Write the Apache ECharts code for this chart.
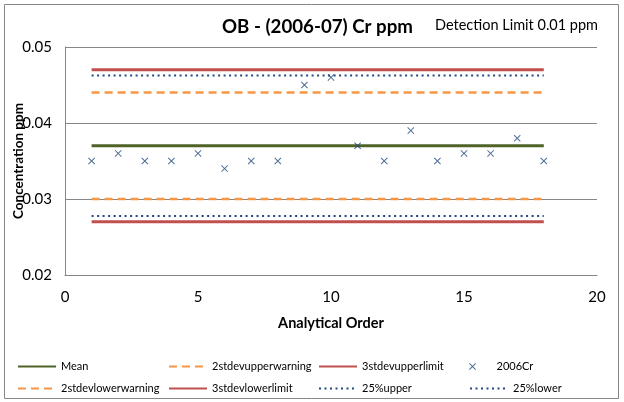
<!DOCTYPE html>
<html><head><meta charset="utf-8">
<script src="https://cdn.jsdelivr.net/npm/echarts@6/dist/echarts.min.js"></script>
<style>html,body{margin:0;padding:0;background:#fff}#c{width:624px;height:402px}</style>
</head><body><div id="c"></div>
<script>
const order = [1,2,3,4,5,6,7,8,9,10,11,12,13,14,15,16,17,18];
const cr2006 = [0.035,0.036,0.035,0.035,0.036,0.034,0.035,0.035,0.045,0.046,0.037,0.035,0.039,0.035,0.036,0.036,0.038,0.035];
const lineX = [1, 18];
const mean = [0.037, 0.037];
const upperWarn2 = [0.044, 0.044];
const lowerWarn2 = [0.030, 0.030];
const upperLimit3 = [0.047, 0.047];
const lowerLimit3 = [0.027, 0.027];
const upper25 = [0.04625, 0.04625];
const lower25 = [0.02775, 0.02775];
const yTicks = [0.02, 0.03, 0.04, 0.05];
const xTicks = [0, 5, 10, 15, 20];

const FONT = 'Lato, "Open Sans", sans-serif';
const pair = (xs, ys) => xs.map((x, i) => [x, ys[i]]);
const lineSeries = (name, ys, color, type, width, z) => ({
  name, type: 'line', data: pair(lineX, ys), symbol: 'none', showSymbol: false, z: z || 2,
  lineStyle: { color, type, width }, itemStyle: { color }
});
const xPath = 'path://M0,1 L1,0 L5,4 L9,0 L10,1 L6,5 L10,9 L9,10 L5,6 L1,10 L0,9 L4,5 Z';

const legendAt = (name, left, top, isLine) => ({
  orient: 'horizontal', left, top, padding: 0, itemWidth: 38, itemHeight: isLine ? 10 : 7, itemGap: 4,
  textStyle: { fontFamily: FONT, fontSize: 11, color: '#000' },
  data: [isLine ? { name, itemStyle: { opacity: 0 } } : name]
});

const chart = echarts.init(document.getElementById('c'), null, { renderer: 'canvas' });
chart.setOption({
  animation: false,
  backgroundColor: '#fff',
  graphic: [{ type: 'rect', shape: { x: 4.5, y: 4.5, width: 614, height: 394 }, style: { fill: 'none', stroke: '#868686', lineWidth: 1 } },
    { type: 'text', left: 435, top: 18, style: { text: 'Detection Limit 0.01 ppm', fontFamily: FONT, fontSize: 14.5, fill: '#000' } }],
  title: { text: 'OB - (2006-07) Cr ppm', left: 222, top: 17, padding: 0,
    textStyle: { fontFamily: FONT, fontSize: 18.7, fontWeight: 'bold', color: '#000' } },
  grid: { left: 65, right: 27, top: 47, bottom: 127, containLabel: false, outerBoundsMode: 'none' },
  xAxis: { type: 'value', min: xTicks[0], max: xTicks[xTicks.length - 1], interval: 5,
    name: 'Analytical Order', nameLocation: 'middle', nameGap: 41, nameMoveOverlap: false,
    nameTextStyle: { fontFamily: FONT, fontSize: 14.5, fontWeight: 'bold', color: '#000' },
    axisLine: { lineStyle: { color: '#868686' } }, axisTick: { show: false },
    axisLabel: { fontFamily: FONT, fontSize: 15, color: '#000', margin: 15 },
    splitLine: { show: false } },
  yAxis: { type: 'value', min: yTicks[0], max: yTicks[yTicks.length - 1], interval: 0.01,
    name: 'Concentration ppm', nameLocation: 'middle', nameGap: 39, nameMoveOverlap: false,
    nameTextStyle: { fontFamily: FONT, fontSize: 13.5, fontWeight: 'bold', color: '#000' },
    axisLine: { show: true, lineStyle: { color: '#868686' } }, axisTick: { show: false },
    axisLabel: { fontFamily: FONT, fontSize: 15, color: '#000', margin: 13, formatter: v => v.toFixed(2) },
    splitLine: { lineStyle: { color: '#868686', width: 1 } } },
  legend: [
    legendAt('Mean', 17, 361, true),
    legendAt('2stdevupperwarning', 168, 361, true),
    legendAt('3stdevupperlimit', 318, 361, true),
    legendAt('2006Cr', 469, 361, false),
    legendAt('2stdevlowerwarning', 17, 383, true),
    legendAt('3stdevlowerlimit', 168, 383, true),
    legendAt('25%upper', 318, 383, true),
    legendAt('25%lower', 469, 383, true)
  ],
  series: [
    lineSeries('Mean', mean, '#4F6228', 'solid', 3),
    lineSeries('2stdevupperwarning', upperWarn2, '#F79646', [8, 5], 2.5),
    lineSeries('3stdevupperlimit', upperLimit3, '#C0504D', 'solid', 3),
    { name: '2006Cr', type: 'scatter', data: pair(order, cr2006), symbol: xPath, symbolSize: 7, z: 5,
      itemStyle: { color: '#1F497D' } },
    lineSeries('2stdevlowerwarning', lowerWarn2, '#F79646', [8, 5], 2.5),
    lineSeries('3stdevlowerlimit', lowerLimit3, '#C0504D', 'solid', 3),
    lineSeries('25%upper', upper25, '#1F497D', [2, 3.5], 2),
    lineSeries('25%lower', lower25, '#1F497D', [2, 3.5], 2)
  ]
});
</script></body></html>
